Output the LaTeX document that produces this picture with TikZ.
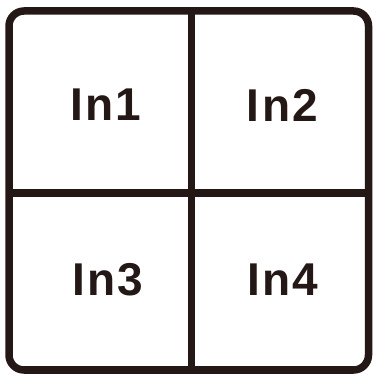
\documentclass[tikz,border=0pt]{standalone}
\usepackage{fontspec}
\setmainfont{Liberation Sans}
\definecolor{inkblack}{HTML}{231815}
\begin{document}
\begin{tikzpicture}[x=1pt,y=1pt]
  % Parameters
  \def\framewidth{7.5pt}
  \def\cornerradius{15pt}

  \tikzset{
    frameline/.style={draw=inkblack, line width=\framewidth},
    inlabel/.style={text=inkblack, inner sep=0pt,
      font=\fontsize{46}{46}\selectfont\bfseries\addfontfeature{LetterSpace=5}}
  }

  \useasboundingbox (0,0) rectangle (372,374);

  % Outer frame
  \draw[frameline, rounded corners=\cornerradius] (9,4) rectangle (368.5,363);

  % Cross dividers
  \coordinate (topmid) at (191.5,363);
  \coordinate (botmid) at (191.5,4);
  \coordinate (leftmid) at (9,181);
  \coordinate (rightmid) at (368.5,181);
  \draw[frameline] (topmid) -- (botmid);
  \draw[frameline] (leftmid) -- (rightmid);

  % Channel labels
  \node[inlabel] (in1) at (106,269) {In1};
  \node[inlabel] (in2) at (282.5,269) {In2};
  \node[inlabel] (in3) at (108,94) {In3};
  \node[inlabel] (in4) at (283,94) {In4};

\end{tikzpicture}
\end{document}
